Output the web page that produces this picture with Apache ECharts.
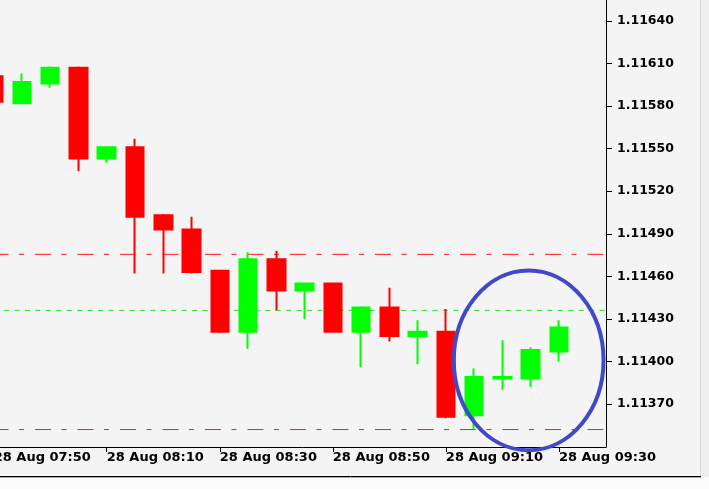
<!DOCTYPE html>
<html>
<head>
<meta charset="utf-8">
<script src="https://cdn.jsdelivr.net/npm/echarts@6/dist/echarts.min.js"></script>
<style>
html,body{margin:0;padding:0;background:#f4f4f4;}
#chart{width:709px;height:489px;}
</style>
</head>
<body>
<div id="chart"></div>
<script>
// ---- data ----
const times = ['07:50','07:55','08:00','08:05','08:10','08:15','08:20','08:25','08:30','08:35','08:40',
               '08:45','08:50','08:55','09:00','09:05','09:10','09:15','09:20','09:25','09:30'];
const opens  = [1.11601,1.11582,1.11596,1.11607,1.11543,1.11551,1.11503,1.11493,1.11464,1.11421,1.11472,
                1.11450,1.11455,1.11421,1.11438,1.11418,1.11421,1.11362,1.11388,1.11388,1.11407];
const closes = [1.11583,1.11597,1.11607,1.11543,1.11551,1.11502,1.11493,1.11463,1.11421,1.11472,1.11450,
                1.11455,1.11421,1.11438,1.11418,1.11421,1.11361,1.11389,1.11389,1.11408,1.11424];
const lows   = [1.11581,1.11582,1.11593,1.11534,1.11540,1.11462,1.11462,1.11462,1.11420,1.11409,1.11436,
                1.11430,1.11421,1.11396,1.11414,1.11398,1.11360,1.11352,1.11380,1.11382,1.11400];
const highs  = [1.11604,1.11603,1.11608,1.11608,1.11551,1.11557,1.11504,1.11502,1.11464,1.11477,1.11478,
                1.11455,1.11455,1.11439,1.11452,1.11429,1.11437,1.11395,1.11415,1.11410,1.11429];
const xTickIdx = [0,4,8,12,16,20];
const yTicks = [1.11370,1.11400,1.11430,1.11460,1.11490,1.11520,1.11550,1.11580,1.11610,1.11640];
const redLevels = [1.114755, 1.11352];
const greenLevels = [1.11436];
// annotation ellipse (data coords: center idx, center price, radius in idx units, radius in price)
const ellipseCenter = [18.93, 1.114008];
const ellipseRadius = [2.65, 0.000634];

const X_MIN = -0.5, X_MAX = 21.667;
const candleData = times.map((t,i)=>[i, opens[i], closes[i], lows[i], highs[i]]);

const chart = echarts.init(document.getElementById('chart'), null, {renderer:'canvas'});
const FONT = '"DejaVu Sans", sans-serif';

const levelSeries = [];
redLevels.forEach(v=>levelSeries.push({type:'line', data:[[X_MIN,v],[X_MAX,v]], symbol:'none', silent:true, z:1,
  lineStyle:{color:'#ff1a1a', width:1, type:[16,10.5,5,11], dashOffset:29.6}}));
greenLevels.forEach(v=>levelSeries.push({type:'line', data:[[X_MIN,v],[X_MAX,v]], symbol:'none', silent:true, z:1,
  lineStyle:{color:'#22e622', width:1, type:[5,5.45], dashOffset:6.9}}));

chart.setOption({
  animation:false,
  backgroundColor:'#f4f4f4',
  grid:{left:-20.43, right:103, top:0, bottom:42, outerBoundsMode:'none', containLabel:false},
  xAxis:{
    type:'value', min:X_MIN, max:X_MAX,
    splitLine:{show:false},
    axisLine:{show:true, onZero:false, lineStyle:{color:'#000', width:1}},
    axisTick:{show:true, length:5, inside:false, customValues:xTickIdx, lineStyle:{color:'#000', width:1}},
    axisLabel:{show:true, customValues:xTickIdx, align:'left', margin:4, color:'#000',
      fontFamily:FONT, fontSize:13, fontWeight:'bold',
      formatter:(v)=>'28 Aug ' + times[Math.round(v)]}
  },
  yAxis:{
    type:'value', position:'right', min:1.113397, max:1.116548, scale:true,
    splitLine:{show:false},
    axisLine:{show:true, onZero:false, lineStyle:{color:'#000', width:1}},
    axisTick:{show:true, length:6, inside:false, customValues:yTicks, lineStyle:{color:'#000', width:1}},
    axisLabel:{show:true, customValues:yTicks, margin:11, color:'#000', fontFamily:FONT, fontSize:12.5, fontWeight:'bold',
      formatter:(v)=>v.toFixed(5)}
  },
  series:[{
    type:'candlestick',
    data:candleData,
    barWidth:18, z:2,
    itemStyle:{color:'#00ff00', color0:'#ff0000', borderColor:'#00ff00', borderColor0:'#ff0000', borderWidth:2}
  }].concat(levelSeries)
});

function drawDecor(){
  const c = chart.convertToPixel({gridIndex:0}, ellipseCenter);
  const e = chart.convertToPixel({gridIndex:0}, [ellipseCenter[0]+ellipseRadius[0], ellipseCenter[1]+ellipseRadius[1]]);
  chart.setOption({
    graphic:[
      {type:'rect', z:-1, shape:{x:0, y:477, width:709, height:12}, style:{fill:'#fbfbfb'}, silent:true},
      {type:'rect', z:-1, shape:{x:701, y:0, width:8, height:477}, style:{fill:'#efefef'}, silent:true},
      {type:'line', shape:{x1:700.5, y1:0, x2:700.5, y2:476}, style:{stroke:'#d4d4d4', lineWidth:1}, silent:true},
      {type:'line', shape:{x1:0, y1:476.5, x2:701, y2:476.5}, style:{stroke:'#000', lineWidth:1}, silent:true},
      {type:'line', shape:{x1:0, y1:477.5, x2:701, y2:477.5}, style:{stroke:'#a8a8a8', lineWidth:1}, silent:true},
      {type:'ellipse', z:100, shape:{cx:c[0], cy:c[1], rx:Math.abs(e[0]-c[0]), ry:Math.abs(c[1]-e[1])},
        style:{fill:'none', stroke:'#4249c9', lineWidth:4}, silent:true}
    ]
  });
}
drawDecor();
</script>
</body>
</html>
